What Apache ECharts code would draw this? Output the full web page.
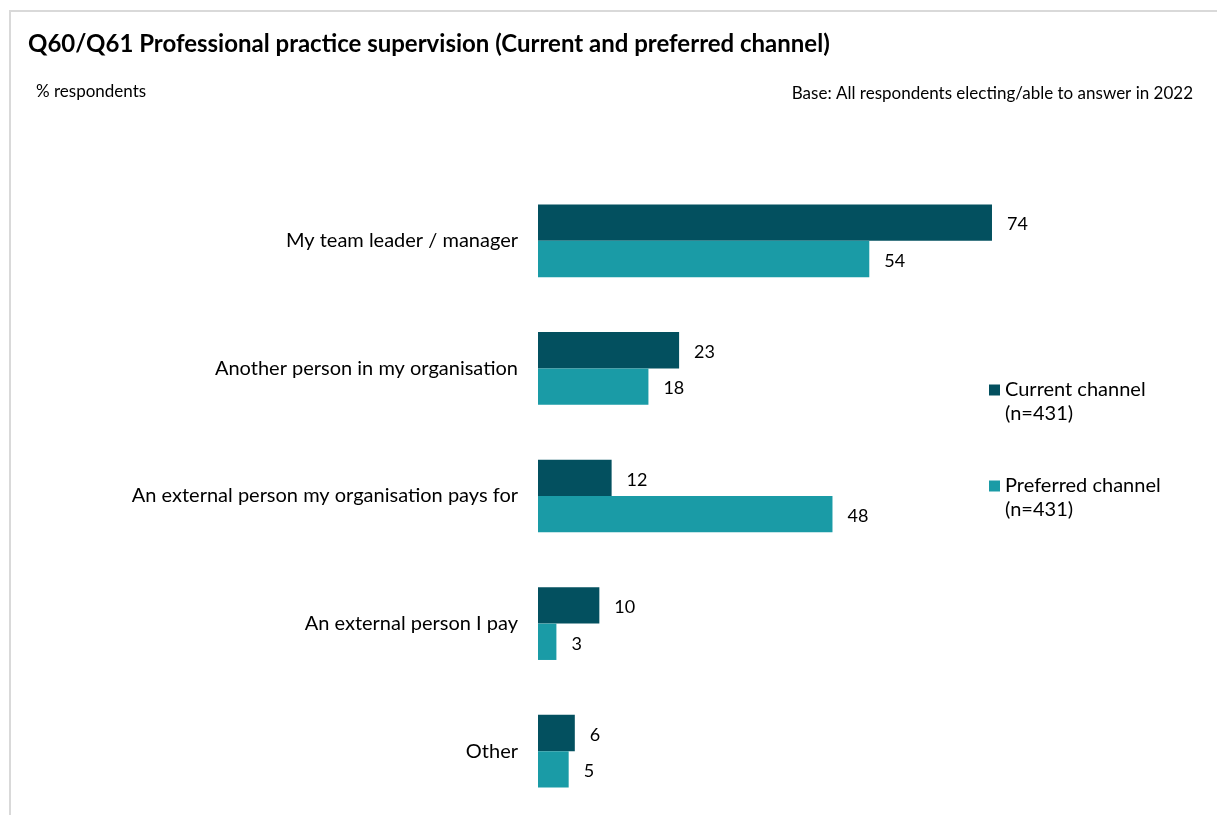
<!DOCTYPE html>
<html>
<head>
<meta charset="utf-8">
<script src="https://cdn.jsdelivr.net/npm/echarts@6/dist/echarts.min.js"></script>
<style>html,body{margin:0;padding:0;background:#fff}#c{width:1217px;height:815px}</style>
</head>
<body>
<div id="c"></div>
<script>
const categories = ['My team leader / manager', 'Another person in my organisation', 'An external person my organisation pays for', 'An external person I pay', 'Other'];
const currentValues = [74, 23, 12, 10, 6];
const preferredValues = [54, 18, 48, 3, 5];
const seriesNames = ['Current channel', 'Preferred channel'];
const seriesBase = '(n=431)';
const titleText = 'Q60/Q61 Professional practice supervision (Current and preferred channel)';
const subLeft = '% respondents';
const subRight = 'Base: All respondents electing/able to answer in 2022';

const FONT = 'Lato, "Open Sans", sans-serif';
const chart = echarts.init(document.getElementById('c'), null, {renderer: 'canvas'});
chart.setOption({
  animation: false,
  backgroundColor: '#fff',
  textStyle: {fontFamily: FONT},
  graphic: [
    {type: 'rect', shape: {x: 10, y: 11, width: 1400, height: 1000}, style: {fill: 'none', stroke: '#d9d9d9', lineWidth: 2}, silent: true},
    {type: 'text', left: 28, top: 32, style: {text: titleText, font: 'bold 24px ' + FONT, fill: '#000'}},
    {type: 'text', left: 36, top: 83, style: {text: subLeft, font: '17px ' + FONT, fill: '#000'}},
    {type: 'text', right: 24, top: 85, style: {text: subRight, font: '17px ' + FONT, fill: '#000'}}
  ],
  legend: {
    orient: 'vertical',
    left: 984,
    top: 349,
    itemWidth: 11,
    itemHeight: 11,
    itemGap: 24,
    icon: 'rect',
    selectedMode: false,
    formatter: name => ' \n' + name + '\n' + seriesBase,
    textStyle: {fontSize: 20, color: '#000', lineHeight: 24, fontFamily: FONT}
  },
  grid: {left: 538, top: 177, width: 613.5, height: 640, containLabel: false},
  xAxis: {type: 'value', min: 0, max: 100, show: false, splitLine: {show: false}},
  yAxis: {
    type: 'category', data: categories, inverse: true,
    axisLine: {show: false}, axisTick: {show: false},
    axisLabel: {fontSize: 20, color: '#000', margin: 20, padding: [4, 0, 0, 0], fontFamily: FONT}
  },
  series: [
    {name: seriesNames[0], type: 'bar', data: currentValues, barCategoryGap: '43%', barGap: '0%',
      itemStyle: {color: '#03505f'},
      label: {show: true, position: 'right', distance: 15, offset: [0, 2], fontSize: 18, color: '#000', fontFamily: FONT}},
    {name: seriesNames[1], type: 'bar', data: preferredValues, barCategoryGap: '43%', barGap: '0%',
      itemStyle: {color: '#1a9ba6'},
      label: {show: true, position: 'right', distance: 15, offset: [0, 2], fontSize: 18, color: '#000', fontFamily: FONT}}
  ]
});
</script>
</body>
</html>
